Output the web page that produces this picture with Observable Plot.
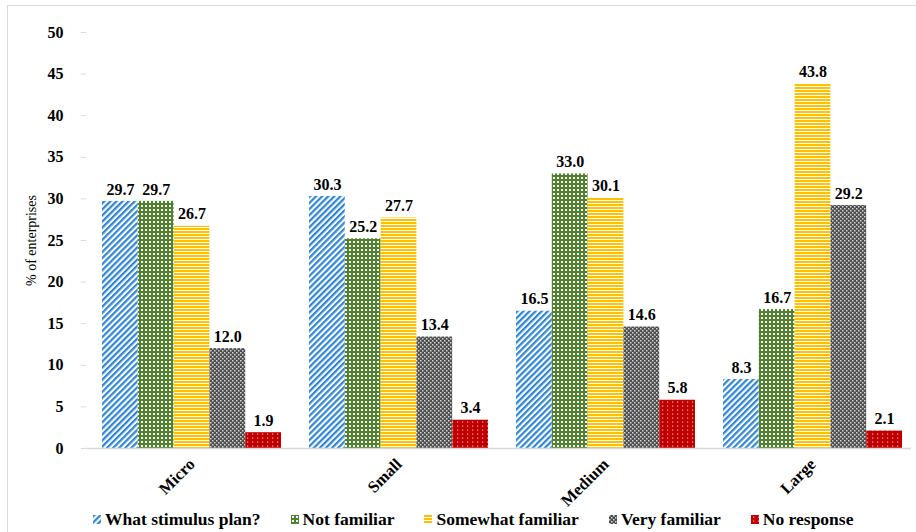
<!DOCTYPE html>
<html>
<head>
<meta charset="utf-8">
<script src="https://cdn.jsdelivr.net/npm/d3@7"></script>
<script src="https://cdn.jsdelivr.net/npm/@observablehq/plot@0.6"></script>
<style>
  body { margin: 0; background: #fff; font-family: "Liberation Serif", "Times New Roman", serif; }
  #frame { position: absolute; left: 7px; top: 5px; width: 1000px; height: 600px; border: 1px solid #d9d9d9; box-sizing: border-box; }
  #chart { position: absolute; left: 0; top: 0; }
  #chart text { font-family: "Liberation Serif", "Times New Roman", serif; }
  #legend { position: absolute; left: 93px; top: 503px; }
  .lg-swatches-wrap { min-height: 33px !important; font-family: "Liberation Serif", "Times New Roman", serif !important; }
  .lg-swatch { margin-right: 30px !important; font-weight: bold; }
  .lg-swatch > svg { margin-right: 4px !important; }
</style>
</head>
<body>
<div id="frame"></div>
<svg width="0" height="0" style="position:absolute">
  <defs>
    <pattern id="pBlue" width="4.3" height="4.3" patternUnits="userSpaceOnUse" patternTransform="rotate(45)">
      <rect width="4.3" height="4.3" fill="#ffffff"/>
      <rect width="2.2" height="4.3" fill="#2f86d8"/>
    </pattern>
    <pattern id="pGreen" width="4" height="4" patternUnits="userSpaceOnUse">
      <rect width="4" height="4" fill="#4f822c"/>
      <rect x="1" y="1" width="2" height="2" fill="#ffffff"/>
    </pattern>
    <pattern id="pYellow" width="4" height="3" patternUnits="userSpaceOnUse">
      <rect width="4" height="3" fill="#ffffff"/>
      <rect width="4" height="2" fill="#ffc000"/>
    </pattern>
    <pattern id="pGray" width="4" height="4" patternUnits="userSpaceOnUse">
      <rect width="4" height="4" fill="#4d4d4d"/>
      <rect x="0" y="0" width="1.5" height="1.5" fill="#d8d8d8"/>
      <rect x="2" y="2" width="1.5" height="1.5" fill="#d8d8d8"/>
    </pattern>
    <pattern id="pRed" width="5" height="4" patternUnits="userSpaceOnUse">
      <rect width="5" height="4" fill="#c00000"/>
      <rect x="2" y="1.5" width="1.2" height="1.2" fill="#f2a6a6"/>
    </pattern>
  </defs>
</svg>
<div id="chart"></div>
<div id="legend"></div>
<script>
// Enterprise size groups and familiarity responses
const sizes = ["Micro", "Small", "Medium", "Large"];
const series = ["What stimulus plan?", "Not familiar", "Somewhat familiar", "Very familiar", "No response"];

// Share of enterprises (%) per size group
const stimulusPlan     = [29.7, 30.3, 16.5, 8.3];
const notFamiliar      = [29.7, 25.2, 33.0, 16.7];
const somewhatFamiliar = [26.7, 27.7, 30.1, 43.8];
const veryFamiliar     = [12.0, 13.4, 14.6, 29.2];
const noResponse       = [1.9, 3.4, 5.8, 2.1];

const yTicks = [0, 5, 10, 15, 20, 25, 30, 35, 40, 45, 50];
const fills = ["url(#pBlue)", "url(#pGreen)", "url(#pYellow)", "url(#pGray)", "url(#pRed)"];

const valuesBySeries = [stimulusPlan, notFamiliar, somewhatFamiliar, veryFamiliar, noResponse];
const rows = [];
series.forEach((s, i) => {
  sizes.forEach((g, j) => rows.push({size: g, series: s, k: i, value: valuesBySeries[i][j]}));
});

const serif = '"Liberation Serif", "Times New Roman", serif';
const width = 916, height = 532;
const marginLeft = 86, marginRight = 5;
const xOpts = {domain: sizes, paddingInner: 0.1353, paddingOuter: 0.0597, align: 0.636};

// band width of each size group, split evenly between the five responses
const bw = d3.scaleBand().domain(sizes).range([marginLeft, width - marginRight])
  .paddingInner(xOpts.paddingInner).paddingOuter(xOpts.paddingOuter).align(xOpts.align).bandwidth();
const sub = bw / series.length;

const marks = [];
series.forEach((s, i) => {
  const data = rows.filter(d => d.k === i);
  marks.push(Plot.barY(data, {
    x: "size", y: "value", fill: "series",
    insetLeft: i * sub, insetRight: (series.length - 1 - i) * sub
  }));
  marks.push(Plot.text(data, {
    x: "size", y: "value", text: d => d.value.toFixed(1),
    dx: (i - (series.length - 1) / 2) * sub, dy: -12,
    fontWeight: "bold", fontSize: 16, fill: "#000"
  }));
});

const chart = Plot.plot({
  width, height,
  marginTop: 32, marginBottom: 84, marginLeft, marginRight,
  style: {fontFamily: serif, background: "transparent"},
  x: {...xOpts, axis: null},
  y: {domain: [0, 50], axis: null},
  color: {type: "ordinal", domain: series, range: fills},
  marks: [
    Plot.axisY({ticks: yTicks, tickSize: 5, tickPadding: 18, stroke: "#d9d9d9", fill: "#000",
      fontWeight: "bold", fontSize: 16, label: null}),
    Plot.text(["% of enterprises"], {frameAnchor: "left", textAnchor: "middle", rotate: -90, dx: -55,
      fontSize: 14, fill: "#000"}),
    ...marks,
    Plot.ruleY([0], {stroke: "#d9d9d9", strokeWidth: 1.5}),
    Plot.axisX({tickRotate: -45, tickSize: 0, tickPadding: 13, label: null,
      fontWeight: "bold", fontSize: 16.5, fill: "#000"})
  ]
});
document.getElementById("chart").append(chart);

const legend = chart.legend("color", {
  className: "lg", swatchWidth: 8, swatchHeight: 9,
  style: {fontFamily: serif, fontSize: "17.5px", fontWeight: "bold", color: "#000"}
});
document.getElementById("legend").append(legend);
</script>
</body>
</html>
